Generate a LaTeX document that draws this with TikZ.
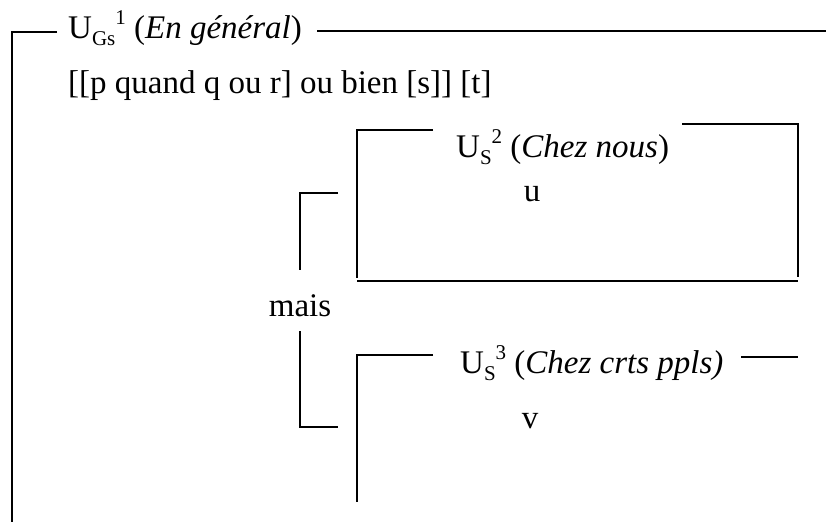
\documentclass[tikz,border=0pt]{standalone}
\usepackage{fontspec}
\setmainfont{Liberation Serif}
\newcommand{\subtx}[1]{\raisebox{-0.22em}{\fontsize{21}{24}\selectfont #1}}
\newcommand{\suptx}[1]{\raisebox{0.42em}{\fontsize{21}{24}\selectfont #1}}
\tikzset{
  lbl/.style={inner sep=0pt, anchor=base west, font=\fontsize{33}{40}\selectfont},
  mid/.style={inner sep=0pt, anchor=base, font=\fontsize{33}{40}\selectfont}
}

\begin{document}
\begin{tikzpicture}[x=1pt, y=-1pt, line width=2.4pt]
        \useasboundingbox (0,0) rectangle (826,522);

        % outer frame
        \draw (57,32) -- (12,32) -- (12,522);
        \draw (317,31) -- (826,31);
        \node [lbl] (gen) at (67,38) {U\subtx{Gs}\suptx{1} (\textit{En général})};
        \node [lbl] (phrase) at (67,93) {[[p quand q ou r] ou bien [s]] [t]};

        % box of u
        \draw (433,130) -- (357,130) -- (357,278);
        \draw (682,124) -- (798,124) -- (798,277);
        \draw (357,281) -- (798,281);
        \node [lbl] (nous) at (455,157) {U\subtx{S}\suptx{2} (\textit{Chez nous})};
        \node [mid] (u) at (532,201) {u};

        % mais bracket
        \draw (338,193) -- (300,193) -- (300,270);
        \node [mid] (mais) at (300,316) {mais};
        \draw (300,331) -- (300,427) -- (338,427);

        % box of v
        \draw (433,355) -- (357,355) -- (357,502);
        \draw (741,357) -- (798,357);
        \node [lbl] (ppls) at (459,373) {U\subtx{S}\suptx{3} (\textit{Chez crts ppls)}};
        \node [mid] (v) at (530,428) {v};
\end{tikzpicture}
\end{document}
